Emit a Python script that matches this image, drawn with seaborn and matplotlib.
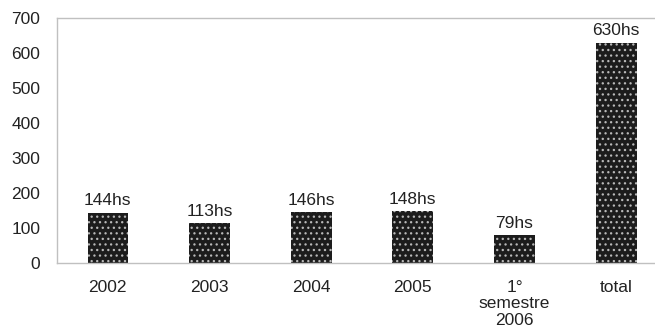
import matplotlib
matplotlib.use("Agg")
import matplotlib.pyplot as plt
import seaborn as sns

categories = ["2002", "2003", "2004", "2005", "1°\nsemestre\n2006", "total"]
values = [144, 113, 146, 148, 79, 630]
labels = ["144hs", "113hs", "146hs", "148hs", "79hs", "630hs"]
yticks = [0, 100, 200, 300, 400, 500, 600, 700]

sns.set_style("white")
plt.rcParams['font.family'] = ['Liberation Sans', 'DejaVu Sans']
plt.rcParams['hatch.linewidth'] = 0.9

fig = plt.figure(figsize=(6.55, 3.32), dpi=100)
ax = fig.add_axes([57/655, 69/332, 610/655, 245/332])

sns.barplot(x=categories, y=values, color="#1c1c1c", width=0.4, ax=ax,
            saturation=1, linewidth=0)
for p in ax.patches:
    p.set_hatch("...")
    p.set_edgecolor("#b8b8b8")
    p.set_linewidth(0)

for i, (v, lab) in enumerate(zip(values, labels)):
    ax.annotate(lab, (i, v), xytext=(0, 3), textcoords="offset points",
                ha="center", va="bottom", fontsize=12.5, color="#222222")

ax.set_ylim(0, 700)
ax.set_xlim(-0.5, 5.5)
ax.set_yticks(yticks)
ax.set_xticks([x - 0.5 for x in range(7)], minor=True)
ax.set_xticks(range(6))
ax.set_xticklabels(categories)
ax.tick_params(axis="x", which="major", length=0, pad=12, labelsize=12.5, colors="#222222")
ax.tick_params(axis="x", which="minor", length=5, width=1, color="#b0b0b0", direction="out")
ax.tick_params(axis="y", length=5, width=1, color="#b0b0b0", labelsize=12.5,
               labelcolor="#222222", pad=7, direction="out")
ax.set_xlabel("")
ax.set_ylabel("")
for s in ["left", "bottom", "top"]:
    ax.spines[s].set_visible(True)
    ax.spines[s].set_color("#c0c0c0")
    ax.spines[s].set_linewidth(1)
ax.spines["right"].set_visible(False)
for t in ax.get_xticklabels():
    t.set_linespacing(1.15)

fig.savefig("out.png", dpi=100)
